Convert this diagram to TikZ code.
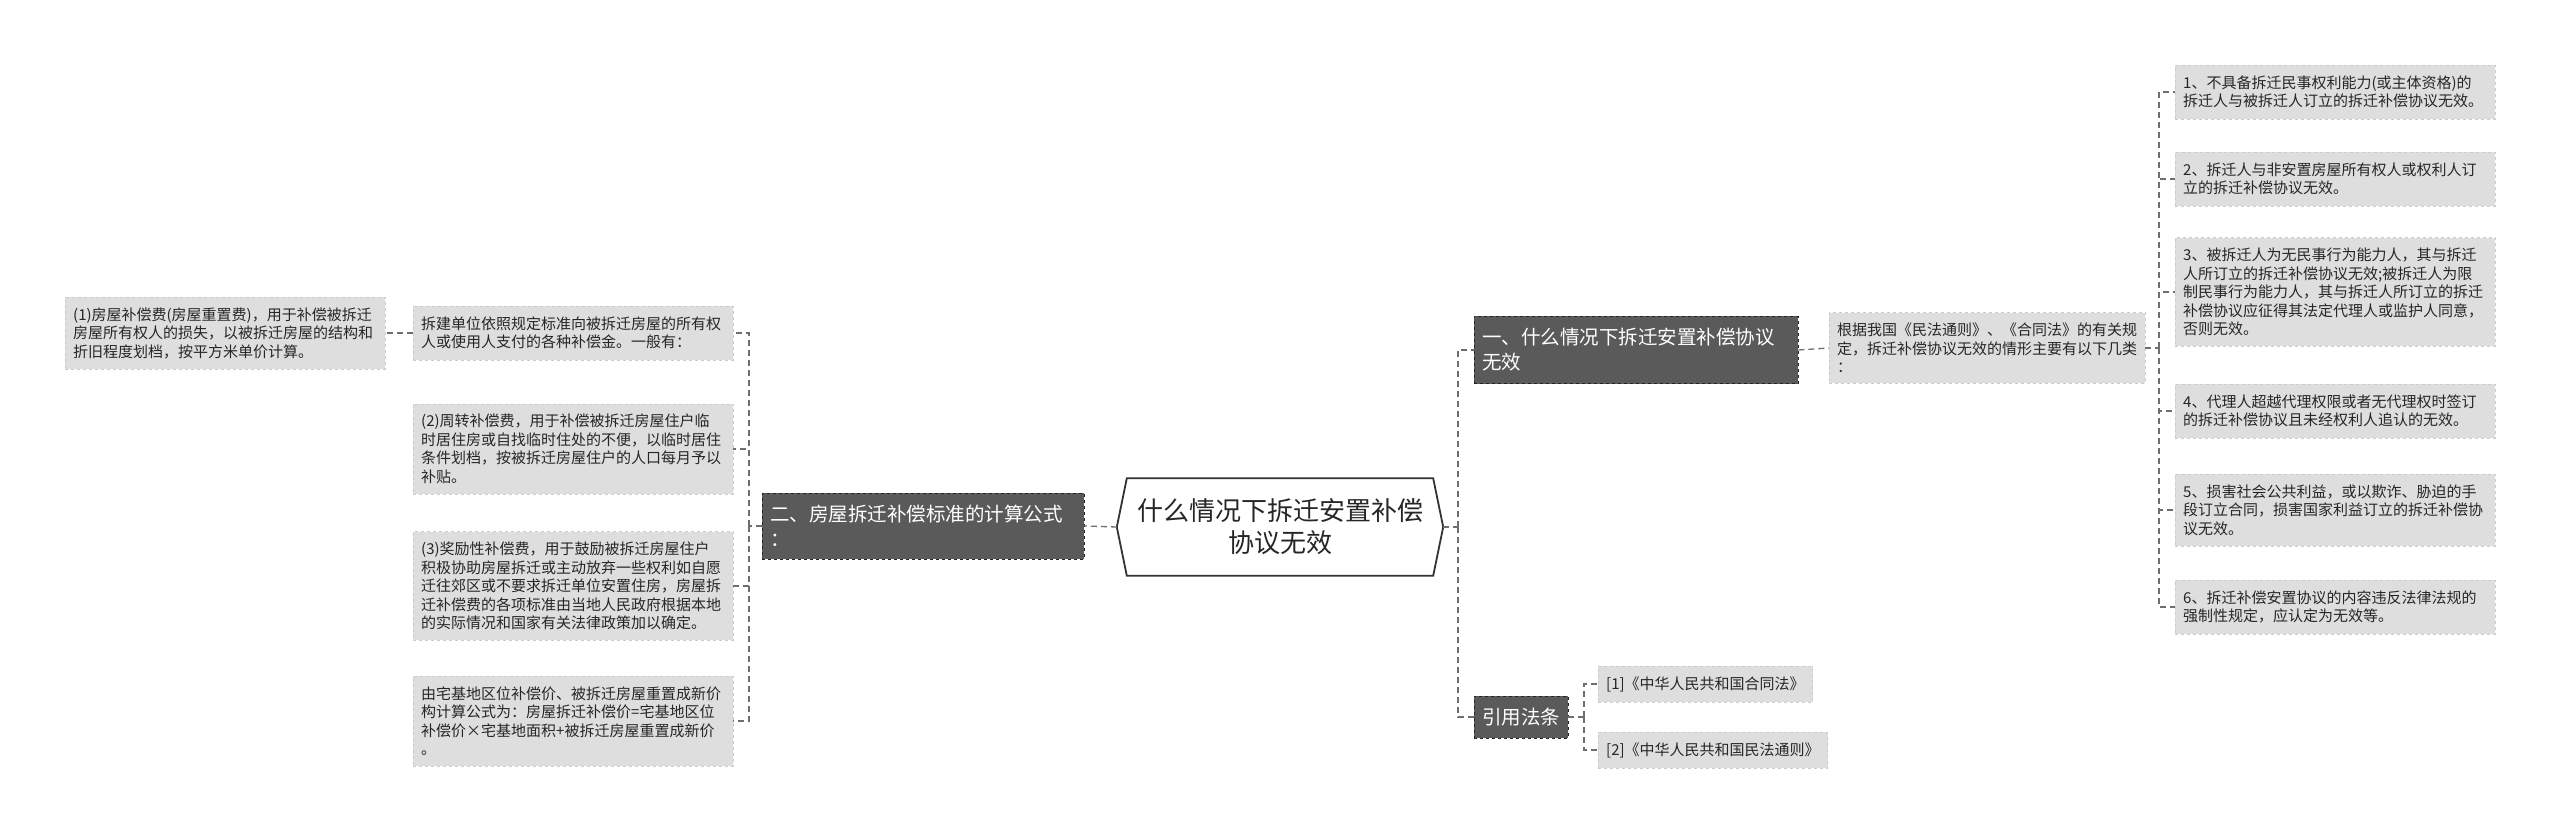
\documentclass[tikz,border=0pt]{standalone}
\usepackage{fontspec}
\setmainfont{Noto Sans CJK SC}
\usetikzlibrary{calc}

\definecolor{boxdark}{HTML}{5A5A5A}
\definecolor{boxlight}{HTML}{DEDEDE}
\definecolor{linkgray}{HTML}{6E6E6E}

\tikzset{
  lightbox/.style={draw=black!20, dashed, fill=boxlight, text=black!85, align=left,
    inner xsep=8pt, inner ysep=10.5pt, font=\fontsize{15}{18.5}\selectfont, anchor=west},
  leafbox/.style={lightbox, text width=304pt},
  secbox/.style={draw=black!85, dashed, fill=boxdark, text=white, align=left,
    inner xsep=8pt, inner ysep=12pt, font=\fontsize{19.5}{25}\selectfont, anchor=west},
  rootbox/.style={minimum width=326pt, minimum height=97pt, align=center,
    text=black!85, font=\fontsize{26}{32}\selectfont},
  link/.style={draw=linkgray, line width=1.3pt, dash pattern=on 6pt off 4pt},
}

\begin{document}
\begin{tikzpicture}[x=1pt,y=-1pt]
  \useasboundingbox (0,0) rectangle (2560,834);

  % centre
  \node[rootbox] (root) at (1280,527) {什么情况下拆迁安置补偿\\协议无效};
  \draw[draw=black!80, line width=1.8pt]
    ($(root.north west)+(10,0)$) -- ($(root.north east)+(-10,0)$) -- (root.east)
    -- ($(root.south east)+(-10,0)$) -- ($(root.south west)+(10,0)$) -- (root.west) -- cycle;

  % left side
  \node[secbox, text width=306pt] (secB) at (762,526) {二、房屋拆迁补偿标准的计算公式\\：};
  \node[leafbox] (feeA) at (413,333) {拆建单位依照规定标准向被拆迁房屋的所有权\\人或使用人支付的各种补偿金。一般有：};
  \node[leafbox] (feeB) at (413,449) {(2)周转补偿费，用于补偿被拆迁房屋住户临\\时居住房或自找临时住处的不便，以临时居住\\条件划档，按被拆迁房屋住户的人口每月予以\\补贴。};
  \node[leafbox] (feeC) at (413,586) {(3)奖励性补偿费，用于鼓励被拆迁房屋住户\\积极协助房屋拆迁或主动放弃一些权利如自愿\\迁往郊区或不要求拆迁单位安置住房，房屋拆\\迁补偿费的各项标准由当地人民政府根据本地\\的实际情况和国家有关法律政策加以确定。};
  \node[leafbox] (feeD) at (413,721) {由宅基地区位补偿价、被拆迁房屋重置成新价\\构计算公式为：房屋拆迁补偿价=宅基地区位\\补偿价×宅基地面积+被拆迁房屋重置成新价\\。};
  \node[leafbox] (fee0) at (65,333) {(1)房屋补偿费(房屋重置费)，用于补偿被拆迁\\房屋所有权人的损失，以被拆迁房屋的结构和\\折旧程度划档，按平方米单价计算。};

  % right side
  \node[secbox, text width=308pt] (secA) at (1474,350) {一、什么情况下拆迁安置补偿协议\\无效};
  \node[secbox] (secC) at (1474,717) {引用法条};
  \node[leafbox, text width=300pt] (basis) at (1829,348) {根据我国《民法通则》、《合同法》的有关规\\定，拆迁补偿协议无效的情形主要有以下几类\\：};
  \node[leafbox] (item1) at (2175,92) {1、不具备拆迁民事权利能力(或主体资格)的\\拆迁人与被拆迁人订立的拆迁补偿协议无效。};
  \node[leafbox] (item2) at (2175,179) {2、拆迁人与非安置房屋所有权人或权利人订\\立的拆迁补偿协议无效。};
  \node[leafbox] (item3) at (2175,292) {3、被拆迁人为无民事行为能力人，其与拆迁\\人所订立的拆迁补偿协议无效;被拆迁人为限\\制民事行为能力人，其与拆迁人所订立的拆迁\\补偿协议应征得其法定代理人或监护人同意，\\否则无效。};
  \node[leafbox] (item4) at (2175,411) {4、代理人超越代理权限或者无代理权时签订\\的拆迁补偿协议且未经权利人追认的无效。};
  \node[leafbox] (item5) at (2175,510) {5、损害社会公共利益，或以欺诈、胁迫的手\\段订立合同，损害国家利益订立的拆迁补偿协\\议无效。};
  \node[leafbox] (item6) at (2175,607) {6、拆迁补偿安置协议的内容违反法律法规的\\强制性规定，应认定为无效等。};
  \node[lightbox] (ref1) at (1598,684) {[1]《中华人民共和国合同法》};
  \node[lightbox] (ref2) at (1598,750) {[2]《中华人民共和国民法通则》};

  % connectors
  \coordinate (busL) at (749,526);
  \coordinate (busR) at (1458,527);
  \coordinate (busI) at (2159,348);
  \coordinate (busC) at (1584,717);
  \draw[link] (root.west) -- (secB.east);
  \draw[link] (secB.west) -- (busL);
  \foreach \n in {A,B,C,D}
    \draw[link] (busL) |- (fee\n.east);
  \draw[link] (feeA.west) -- (fee0.east);
  \draw[link] (root.east) -- (busR);
  \draw[link] (busR) |- (secA.west);
  \draw[link] (busR) |- (secC.west);
  \draw[link] (secA.east) -- (basis.west);
  \draw[link] (basis.east) -- (busI);
  \foreach \i in {1,...,6}
    \draw[link] (busI) |- (item\i.west);
  \draw[link] (secC.east) -- (busC);
  \draw[link] (busC) |- (ref1.west);
  \draw[link] (busC) |- (ref2.west);
\end{tikzpicture}
\end{document}
